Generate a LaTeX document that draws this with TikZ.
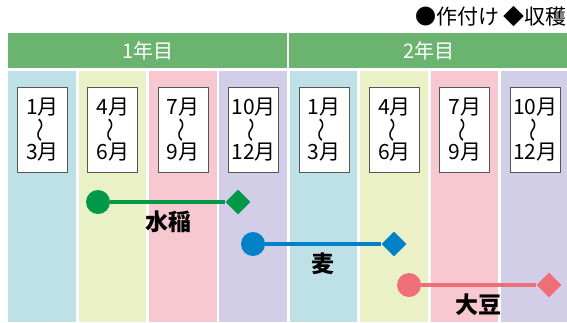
\documentclass[tikz,border=0pt]{standalone}
\usepackage{fontspec}
\setmainfont{Noto Sans CJK JP}
\usetikzlibrary{shapes.geometric,calc}
\definecolor{hdrgreen}{HTML}{6BB470}
\definecolor{cblue}{HTML}{BEE1E7}
\definecolor{cyellow}{HTML}{EAF1C6}
\definecolor{cpink}{HTML}{F7C8CF}
\definecolor{cpurple}{HTML}{D3CEE7}
\definecolor{rice}{HTML}{00994A}
\definecolor{wheat}{HTML}{0081C8}
\definecolor{soy}{HTML}{EE6F78}
\definecolor{boxline}{HTML}{555555}
\tikzset{
  yearhdr/.style={fill=hdrgreen, draw=none, anchor=north west, minimum height=35pt, inner sep=0pt, text=white, font=\fontsize{20}{22}\selectfont},
  colbg/.style={draw=none, anchor=north west, minimum width=67.5pt, minimum height=251pt, inner sep=0pt},
  monthbox/.style={draw=boxline, fill=white, line width=0.9pt, anchor=north west, minimum width=50pt, minimum height=85pt, inner sep=0pt},
  monthtxt/.style={inner sep=0pt, font=\fontsize{21}{22}\selectfont},
  wavetxt/.style={inner sep=0pt, rotate=90, xscale=1.3, font=\fontsize{19}{20}\selectfont},
  plantdot/.style={circle, fill=#1, draw=none, minimum size=24pt, inner sep=0pt},
  harvestmark/.style={diamond, fill=#1, draw=none, minimum width=25pt, minimum height=25pt, inner sep=0pt},
  cropline/.style={draw=#1, line width=4.5pt},
  croplabel/.style={inner sep=0pt, font=\bfseries\fontsize{23}{24}\selectfont},
}
\begin{document}
\begin{tikzpicture}[x=1pt,y=-1pt]
\useasboundingbox (0,0) rectangle (567,322);
% legend
\node[anchor=east, inner sep=0pt, font=\fontsize{21}{22}\selectfont] (legend) at (567,17) {●作付け\hspace{4pt}◆収穫};
% year headers
\node[yearhdr, minimum width=279pt] (y1) at (8,33) {1年目};
\node[yearhdr, minimum width=280pt] (y2) at (289,33) {2年目};
% columns
\foreach \i/\c/\a/\b in {0/cblue/1/3,1/cyellow/4/6,2/cpink/7/9,3/cpurple/10/12,4/cblue/1/3,5/cyellow/4/6,6/cpink/7/9,7/cpurple/10/12}{
  \node[colbg, fill=\c] (c\i) at ({8+\i*70.4},71) {};
  \node[monthbox] (m\i) at ({17+\i*70.4},87) {};
  \node[monthtxt] (ma\i) at ($(m\i.center)+(0,-22.5)$) {\a 月};
  \node[wavetxt] (mw\i) at (m\i.center) {〜};
  \node[monthtxt] (mb\i) at ($(m\i.center)+(0,22.5)$) {\b 月};
}
% rice
\node[plantdot=rice] (r1) at (98,202) {};
\node[harvestmark=rice] (r2) at (238,202) {};
\draw[cropline=rice] (r1) -- (r2);
\node[croplabel] (rl) at (168,222) {水稲};
% wheat
\node[plantdot=wheat] (w1) at (253,244) {};
\node[harvestmark=wheat] (w2) at (394,244) {};
\draw[cropline=wheat] (w1) -- (w2);
\node[croplabel] (wl) at (323,264) {麦};
% soy
\node[plantdot=soy] (s1) at (409,285) {};
\node[harvestmark=soy] (s2) at (549,285) {};
\draw[cropline=soy] (s1) -- (s2);
\node[croplabel] (sl) at (478,305) {大豆};
\end{tikzpicture}
\end{document}
